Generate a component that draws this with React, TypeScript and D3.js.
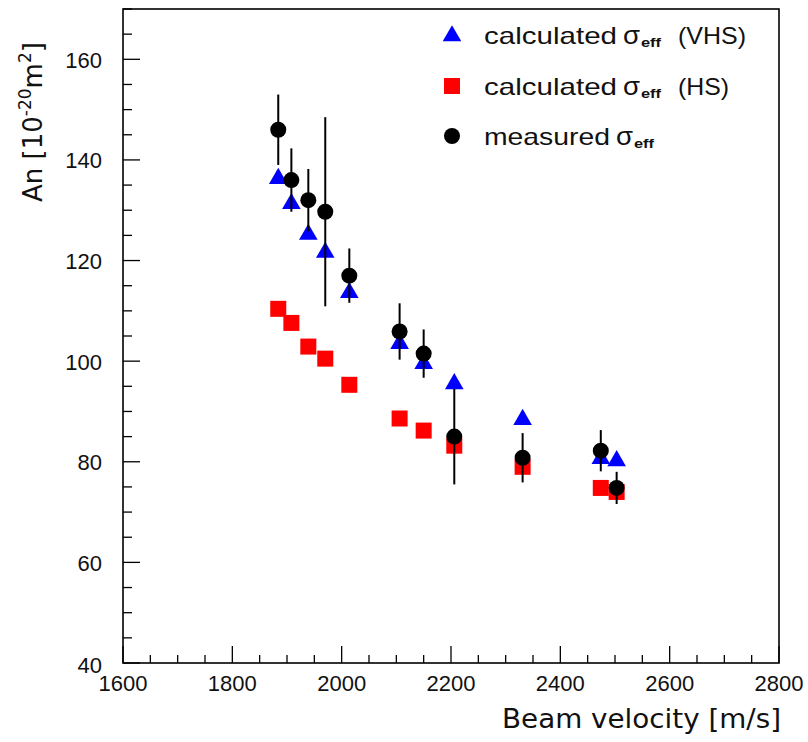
import React from "react";
import * as d3 from "d3";

const velocity = [1884, 1908, 1939, 1970, 2014, 2106, 2150, 2206, 2331, 2474, 2503];
const vhsValues = [136.5, 131.5, 125.4, 121.8, 113.8, 103.7, 99.7, 95.7, 88.6, 80.8, 80.4];
const hsValues = [110.4, 107.6, 102.9, 100.5, 95.3, 88.6, 86.2, 83.2, 79.0, 74.8, 74.0];
const measuredValues = [146, 136, 132, 129.7, 117, 105.9, 101.5, 85, 80.8, 82.2, 74.8];
const measuredErrors = [7, 6.3, 6.2, 18.8, 5.4, 5.6, 4.8, 9.5, 4.9, 4.1, 3.2];

const xDomain = [1600, 2800];
const yDomain = [40, 170];
const legendLabels = ["calculated", "calculated", "measured"];
const legendSuffix = ["(VHS)", "(HS)", ""];

const W = 808, H = 742;
const L = 123, R = 779, T = 9, B = 663;
const FONT = "'Liberation Sans', Arial, sans-serif";

const tri = d3.symbol().type(d3.symbolTriangle).size(150);

export default function App() {
  const x = d3.scaleLinear().domain(xDomain).range([L, R]);
  const y = d3.scaleLinear().domain(yDomain).range([B, T]);
  const xMinor = d3.range(xDomain[0], xDomain[1] + 1, 50);
  const yMinor = d3.range(yDomain[0], yDomain[1] + 1, 5);
  const xMajor = d3.range(xDomain[0], xDomain[1] + 1, 200);
  const yMajor = d3.range(yDomain[0], 161, 20);

  const legendY = [35, 86, 136];
  const legendX = 452;

  return (
    <svg width={W} height={H} style={{ position: "absolute", left: 0, top: 0, background: "#fff" }}>
      <rect x={0} y={0} width={W} height={H} fill="#fff" />
      {/* ticks */}
      {xMinor.map((v) => {
        const major = v % 200 === 0;
        return <line key={"xt" + v} x1={x(v)} x2={x(v)} y1={B} y2={B - (major ? 17 : 8)} stroke="#000" strokeWidth={1.3} />;
      })}
      {yMinor.map((v) => {
        const major = v % 20 === 0;
        return <line key={"yt" + v} x1={L} x2={L + (major ? 17 : 9)} y1={y(v)} y2={y(v)} stroke="#000" strokeWidth={1.3} />;
      })}
      <rect x={L} y={T} width={R - L} height={B - T} fill="none" stroke="#000" strokeWidth={1.6} />
      {/* tick labels */}
      {xMajor.map((v) => (
        <text key={"xl" + v} x={x(v)} y={691} textAnchor="middle" fontFamily={FONT} fontSize={22} fill="#111">
          {v}
        </text>
      ))}
      {yMajor.map((v) => (
        <text key={"yl" + v} x={102} y={y(v) + (v === 40 ? 10 : 8.5)} textAnchor="end" fontFamily={FONT} fontSize={22} fill="#111">
          {v}
        </text>
      ))}
      {/* axis titles */}
      <text x={781} y={728} textAnchor="end" fontFamily="'DejaVu Sans', sans-serif" fontSize={26} fill="#111" textLength={279} lengthAdjust="spacingAndGlyphs">
        Beam velocity [m/s]
      </text>
      <text transform="translate(42,122) rotate(-90)" textAnchor="middle" fontFamily="'DejaVu Sans', sans-serif" fontSize={26} fill="#111">
        An [10<tspan dy={-11} fontSize={17}>-20</tspan><tspan dy={11}>m</tspan><tspan dy={-11} fontSize={17}>2</tspan><tspan dy={11}>]</tspan>
      </text>

      {/* HS squares */}
      {velocity.map((v, i) => (
        <rect key={"hs" + i} x={x(v) - 8} y={y(hsValues[i]) - 8} width={16} height={16} fill="#ff0000" />
      ))}
      {/* VHS triangles */}
      {velocity.map((v, i) => (
        <path key={"vhs" + i} d={tri() as string} transform={`translate(${x(v)},${y(vhsValues[i]) + 1})`} fill="#0000ff" />
      ))}
      {/* error bars */}
      {velocity.map((v, i) => (
        <line key={"eb" + i} x1={x(v)} x2={x(v)} y1={y(measuredValues[i] + measuredErrors[i])} y2={y(measuredValues[i] - measuredErrors[i])} stroke="#000" strokeWidth={2} />
      ))}
      {/* measured circles */}
      {velocity.map((v, i) => (
        <circle key={"m" + i} cx={x(v)} cy={y(measuredValues[i])} r={8} fill="#000" />
      ))}

      {/* legend */}
      <path d={tri() as string} transform={`translate(${legendX},${legendY[0] + 1})`} fill="#0000ff" />
      <rect x={legendX - 8} y={legendY[1] - 8} width={16} height={16} fill="#ff0000" />
      <circle cx={legendX} cy={legendY[2]} r={8} fill="#000" />
      {legendLabels.map((lab, i) => {
        const base = legendY[i] + 9;
        const isMeas = i === 2;
        const sigX = isMeas ? 616 : 623;
        return (
          <g key={"lg" + i} fontFamily={FONT} fill="#111">
            <text x={484} y={base} fontSize={24} textLength={isMeas ? 126 : 133} lengthAdjust="spacingAndGlyphs">{lab}</text>
            <text x={sigX} y={base} fontSize={25} textLength={17} lengthAdjust="spacingAndGlyphs">σ</text>
            <text x={sigX + 18} y={base + 3} fontSize={13} fontWeight="bold" textLength={20} lengthAdjust="spacingAndGlyphs">eff</text>
            {legendSuffix[i] && (
              <text x={678} y={base} fontSize={24} textLength={i === 0 ? 68 : 51} lengthAdjust="spacingAndGlyphs">{legendSuffix[i]}</text>
            )}
          </g>
        );
      })}
    </svg>
  );
}
